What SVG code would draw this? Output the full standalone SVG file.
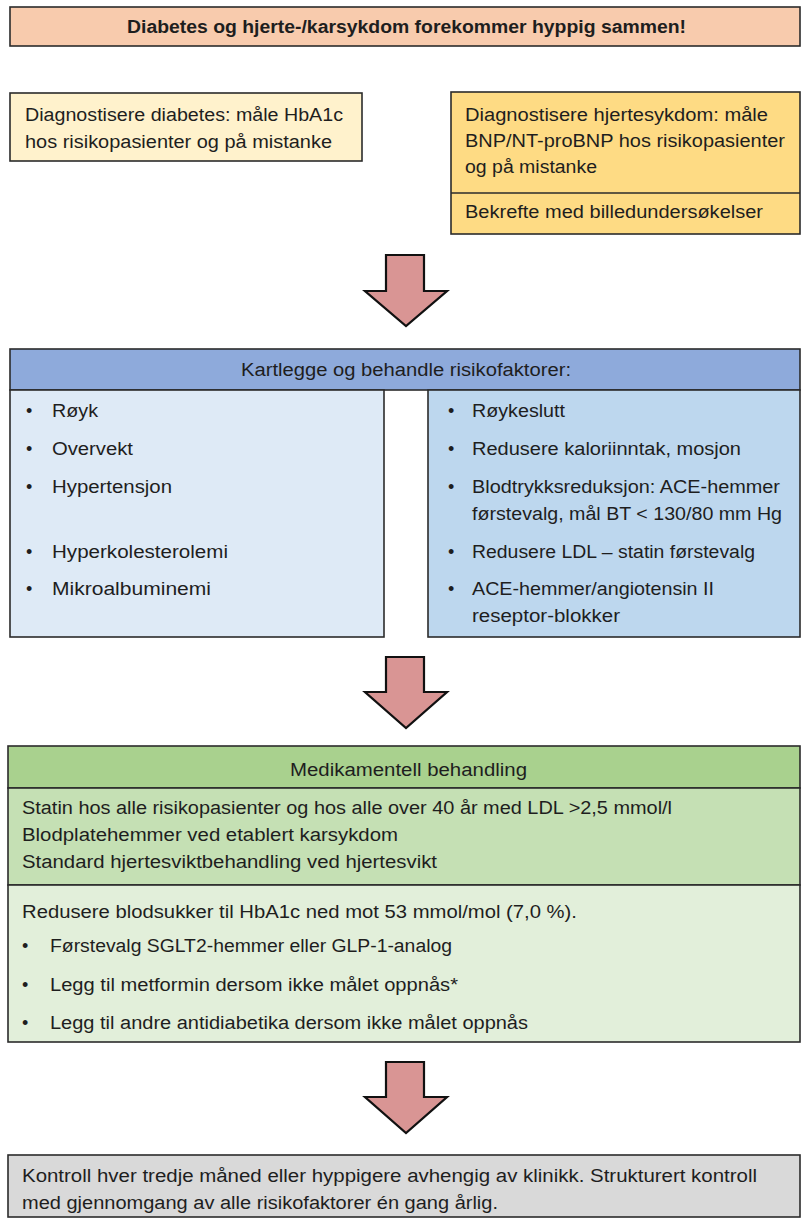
<svg xmlns="http://www.w3.org/2000/svg" width="803" height="1223" viewBox="0 0 803 1223">
<style>
text{font-family:"Liberation Sans",Arial,sans-serif;font-size:18px;fill:#1e1e1e}
.b{font-weight:bold}
.box{stroke:#2b2b2b;stroke-width:1.6}
.arrow{fill:#D99594;stroke:#111;stroke-width:2.2;stroke-linejoin:miter}
</style>
<rect width="803" height="1223" fill="#fff"/>
<g id="banner">
<rect class="box" x="10" y="7" width="790" height="39" fill="#F8CBAD"/>
<text class="b" x="127" y="33" textLength="559" lengthAdjust="spacingAndGlyphs">Diabetes og hjerte-/karsykdom forekommer hyppig sammen!</text>
</g>
<g id="diag-diabetes">
<rect class="box" x="10" y="93" width="352" height="68" fill="#FFF2CC"/>
<text x="25" y="121" textLength="318" lengthAdjust="spacingAndGlyphs">Diagnostisere diabetes: måle HbA1c</text>
<text x="25" y="148" textLength="307" lengthAdjust="spacingAndGlyphs">hos risikopasienter og på mistanke</text>
</g>
<g id="diag-hjerte">
<rect class="box" x="451" y="92" width="349" height="142" fill="#FEDB84"/>
<line class="box" x1="451" y1="193" x2="800" y2="193"/>
<text x="465" y="121" textLength="303" lengthAdjust="spacingAndGlyphs">Diagnostisere hjertesykdom: måle</text>
<text x="465" y="147" textLength="320" lengthAdjust="spacingAndGlyphs">BNP/NT-proBNP hos risikopasienter</text>
<text x="465" y="173" textLength="132" lengthAdjust="spacingAndGlyphs">og på mistanke</text>
<text x="465" y="218" textLength="298" lengthAdjust="spacingAndGlyphs">Bekrefte med billedundersøkelser</text>
</g>
<g id="risiko">
<rect class="box" x="10" y="349" width="790" height="41" fill="#8EAADB"/>
<text x="241" y="376" textLength="330" lengthAdjust="spacingAndGlyphs">Kartlegge og behandle risikofaktorer:</text>
<rect class="box" x="10" y="390" width="374" height="247" fill="#DEEAF6"/>
<rect class="box" x="428" y="390" width="372" height="247" fill="#BDD7EE"/>
<g id="risiko-faktorer">
<text x="26" y="417">•</text><text x="52" y="417" textLength="46" lengthAdjust="spacingAndGlyphs">Røyk</text>
<text x="26" y="455">•</text><text x="52" y="455" textLength="81" lengthAdjust="spacingAndGlyphs">Overvekt</text>
<text x="26" y="493">•</text><text x="52" y="493" textLength="120" lengthAdjust="spacingAndGlyphs">Hypertensjon</text>
<text x="26" y="558">•</text><text x="52" y="558" textLength="176" lengthAdjust="spacingAndGlyphs">Hyperkolesterolemi</text>
<text x="26" y="595">•</text><text x="52" y="595" textLength="159" lengthAdjust="spacingAndGlyphs">Mikroalbuminemi</text>
</g>
<g id="risiko-tiltak">
<text x="448" y="417">•</text><text x="472" y="417" textLength="93" lengthAdjust="spacingAndGlyphs">Røykeslutt</text>
<text x="448" y="455">•</text><text x="472" y="455" textLength="269" lengthAdjust="spacingAndGlyphs">Redusere kaloriinntak, mosjon</text>
<text x="448" y="493">•</text><text x="472" y="493" textLength="308" lengthAdjust="spacingAndGlyphs">Blodtrykksreduksjon: ACE-hemmer</text>
<text x="472" y="520" textLength="310" lengthAdjust="spacingAndGlyphs">førstevalg, mål BT &lt; 130/80 mm Hg</text>
<text x="448" y="558">•</text><text x="472" y="558" textLength="283" lengthAdjust="spacingAndGlyphs">Redusere LDL – statin førstevalg</text>
<text x="448" y="595">•</text><text x="472" y="595" textLength="242" lengthAdjust="spacingAndGlyphs">ACE-hemmer/angiotensin II</text>
<text x="472" y="622" textLength="148" lengthAdjust="spacingAndGlyphs">reseptor-blokker</text>
</g>
</g>
<g id="medikamentell">
<rect class="box" x="8" y="746" width="792" height="42" fill="#A9D18E"/>
<text x="290" y="776" textLength="237" lengthAdjust="spacingAndGlyphs">Medikamentell behandling</text>
<rect class="box" x="8" y="788" width="792" height="97" fill="#C5E0B4"/>
<text x="22" y="814" textLength="650" lengthAdjust="spacingAndGlyphs">Statin hos alle risikopasienter og hos alle over 40 år med LDL &gt;2,5 mmol/l</text>
<text x="22" y="841" textLength="376" lengthAdjust="spacingAndGlyphs">Blodplatehemmer ved etablert karsykdom</text>
<text x="22" y="868" textLength="415" lengthAdjust="spacingAndGlyphs">Standard hjertesviktbehandling ved hjertesvikt</text>
<rect class="box" x="8" y="885" width="792" height="157" fill="#E2EFDA"/>
<text x="22" y="918" textLength="555" lengthAdjust="spacingAndGlyphs">Redusere blodsukker til HbA1c ned mot 53 mmol/mol (7,0 %).</text>
<text x="22" y="952">•</text><text x="50" y="952" textLength="402" lengthAdjust="spacingAndGlyphs">Førstevalg SGLT2-hemmer eller GLP-1-analog</text>
<text x="22" y="991">•</text><text x="50" y="991" textLength="408" lengthAdjust="spacingAndGlyphs">Legg til metformin dersom ikke målet oppnås*</text>
<text x="22" y="1029">•</text><text x="50" y="1029" textLength="478" lengthAdjust="spacingAndGlyphs">Legg til andre antidiabetika dersom ikke målet oppnås</text>
</g>
<g id="kontroll">
<rect class="box" x="8" y="1155" width="792" height="62" fill="#D9D9D9"/>
<text x="22" y="1182" textLength="735" lengthAdjust="spacingAndGlyphs">Kontroll hver tredje måned eller hyppigere avhengig av klinikk. Strukturert kontroll</text>
<text x="22" y="1209" textLength="476" lengthAdjust="spacingAndGlyphs">med gjennomgang av alle risikofaktorer én gang årlig.</text>
</g>
<g id="connectors">
<polygon class="arrow" points="386,255 424,255 424,291 447,291 406,326 365,291 386,291"/>
<polygon class="arrow" points="386,657 424,657 424,692 447,692 406,728 365,692 386,692"/>
<polygon class="arrow" points="386,1062 424,1062 424,1097 447,1097 406,1133 365,1097 386,1097"/>
</g>
</svg>
